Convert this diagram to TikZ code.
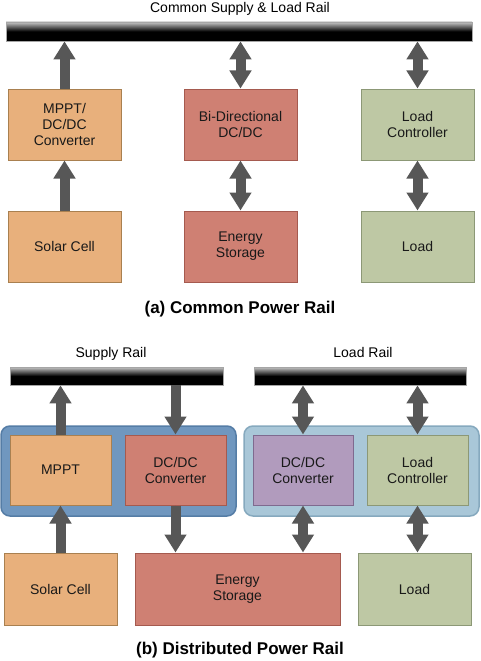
\documentclass[tikz,border=0pt]{standalone}
\usepackage{fontspec}
\setmainfont{Liberation Sans}
\usetikzlibrary{arrows.meta}
\definecolor{orfill}{HTML}{E8B07C}
\definecolor{ordraw}{HTML}{A98050}
\definecolor{rdfill}{HTML}{CF8073}
\definecolor{rddraw}{HTML}{A55A4F}
\definecolor{grfill}{HTML}{BEC8A4}
\definecolor{grdraw}{HTML}{8C9876}
\definecolor{pufill}{HTML}{B19BBD}
\definecolor{pudraw}{HTML}{7F6A8F}
\definecolor{dbfill}{HTML}{7097BF}
\definecolor{dbdraw}{HTML}{557DA6}
\definecolor{lbfill}{HTML}{A9C7D8}
\definecolor{lbdraw}{HTML}{86A9BE}
\definecolor{arrgray}{HTML}{575757}
\tikzset{
  blk/.style={rectangle, draw, line width=1pt, align=center, font=\fontsize{14}{16}\selectfont, text=black!90, inner sep=0pt},
  orabox/.style={blk, fill=orfill, draw=ordraw},
  redbox/.style={blk, fill=rdfill, draw=rddraw},
  grnbox/.style={blk, fill=grfill, draw=grdraw},
  purbox/.style={blk, fill=pufill, draw=pudraw},
  railbar/.style={rectangle, draw=gray!70, line width=0.8pt, top color=gray!45, bottom color=black, middle color=black, inner sep=0pt},
  contbox/.style={rectangle, rounded corners=9pt, line width=1.5pt, inner sep=0pt},
  lbltxt/.style={font=\fontsize{14}{16}\selectfont, inner sep=0pt, anchor=base},
  captxt/.style={font=\bfseries\fontsize{17}{19}\selectfont, inner sep=0pt, anchor=base},
  bigtip/.tip={Triangle[width=21pt,length=18pt]},
  uarr/.style={draw=arrgray, fill=arrgray, line width=10pt, -bigtip},
  darr/.style={draw=arrgray, fill=arrgray, line width=10pt, bigtip-bigtip},
}
\begin{document}
\begin{tikzpicture}[x=1pt,y=-1pt]
\useasboundingbox (0,0) rectangle (480,661);
% ---------- (a) ----------
\node[lbltxt] (ta) at (240,13) {Common Supply \& Load Rail};
\node[railbar, minimum width=466pt, minimum height=19pt] (raila) at (239,31.5) {};
\node[orabox, minimum width=113pt, minimum height=71pt] (mpa) at (64.5,124.5) {MPPT/\\DC/DC\\Converter};
\node[redbox, minimum width=113pt, minimum height=71pt] (bda) at (240.5,124.5) {Bi-Directional\\DC/DC};
\node[grnbox, minimum width=113pt, minimum height=71pt] (lca) at (417.5,124.5) {Load\\Controller};
\node[orabox, minimum width=113pt, minimum height=71pt] (sca) at (64.5,246.5) {Solar Cell};
\node[redbox, minimum width=113pt, minimum height=71pt] (esa) at (240.5,246.5) {Energy\\Storage};
\node[grnbox, minimum width=113pt, minimum height=71pt] (lda) at (417.5,246.5) {Load};
\node[captxt] (capa) at (240,313) {(a) Common Power Rail};
\draw[uarr] (mpa.north) -- (mpa.north |- raila.south);
\draw[darr] (bda.north) -- (bda.north |- raila.south);
\draw[darr] (lca.north) -- (lca.north |- raila.south);
\draw[uarr] (sca.north) -- (mpa.south);
\draw[darr] (esa.north) -- (bda.south);
\draw[darr] (lda.north) -- (lca.south);
% ---------- (b) ----------
\node[lbltxt] (ts) at (111,357) {Supply Rail};
\node[lbltxt] (tl) at (363,357) {Load Rail};
\node[railbar, minimum width=213pt, minimum height=18pt] (railS) at (116.5,376) {};
\node[railbar, minimum width=212pt, minimum height=18pt] (railL) at (360,376) {};
\node[contbox, fill=dbfill, draw=dbdraw, minimum width=235pt, minimum height=90pt] (contL) at (118.5,471) {};
\node[contbox, fill=lbfill, draw=lbdraw, minimum width=235pt, minimum height=90pt] (contR) at (361.5,471) {};
\node[orabox, minimum width=101pt, minimum height=70pt] (mpb) at (60.5,470) {MPPT};
\node[redbox, minimum width=101pt, minimum height=70pt] (dcb) at (175.5,470) {DC/DC\\Converter};
\node[purbox, minimum width=100pt, minimum height=70pt] (pub) at (303,470) {DC/DC\\Converter};
\node[grnbox, minimum width=101pt, minimum height=70pt] (lcb) at (417.5,470) {Load\\Controller};
\node[orabox, minimum width=113pt, minimum height=72pt] (scb) at (60.5,589) {Solar Cell};
\node[redbox, minimum width=205pt, minimum height=72pt] (esb) at (237.5,589) {Energy\\Storage};
\node[grnbox, minimum width=113pt, minimum height=72pt] (ldb) at (414.5,589) {Load};
\node[captxt] (capb) at (240,654) {(b) Distributed Power Rail};
\draw[uarr] (mpb.north) -- (mpb.north |- railS.south);
\draw[uarr] (dcb.north |- railS.south) -- (dcb.north);
\draw[darr] (pub.north) -- (pub.north |- railL.south);
\draw[darr] (lcb.north) -- (lcb.north |- railL.south);
\draw[uarr] (scb.north -| mpb.south) -- (mpb.south);
\draw[uarr] (dcb.south) -- (dcb.south |- esb.north);
\draw[darr] (pub.south) -- (pub.south |- esb.north);
\draw[darr] (lcb.south) -- (lcb.south |- ldb.north);
\end{tikzpicture}
\end{document}
